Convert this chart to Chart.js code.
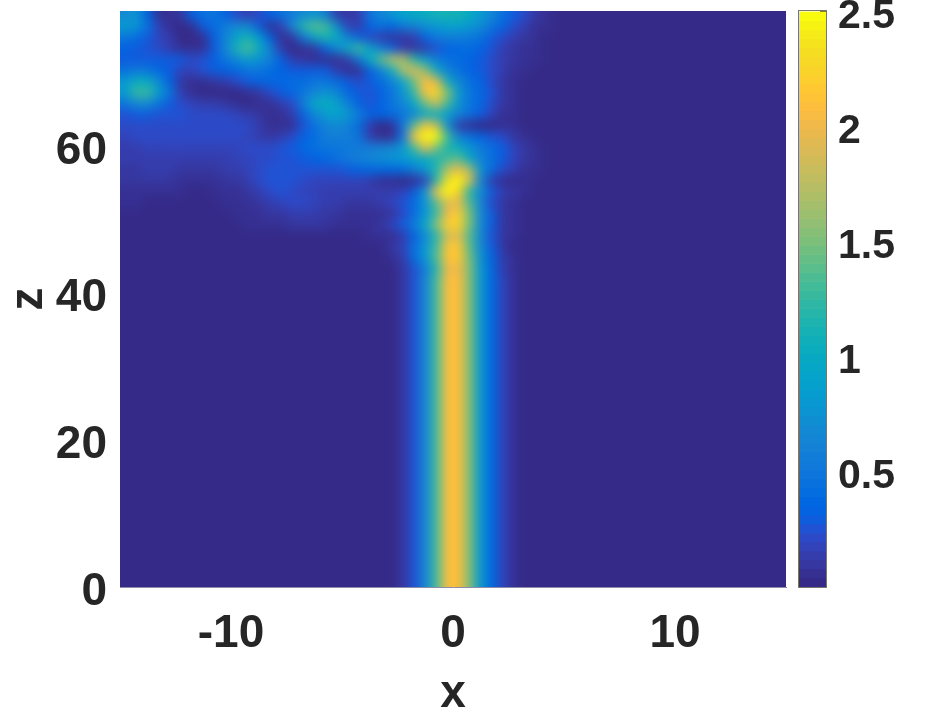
<!DOCTYPE html>
<html>
<head>
<meta charset="utf-8">
<title>Intensity x z</title>
<script src="https://cdn.jsdelivr.net/npm/chart.js@4"></script>
<style>
    html, body { margin: 0; padding: 0; background: #fff; overflow: hidden; }
    canvas { position: absolute; top: 0; display: block; }
    #heat-chart { left: 0; }
    #bar-chart { left: 790px; }
</style>
</head>
<body>
<canvas id="heat-chart" width="927" height="717"></canvas>
<canvas id="bar-chart" width="137" height="717"></canvas>
<script>
// Values
const xCenters = [
    -14.75, -14.25, -13.75, -13.25, -12.75, -12.25, -11.75, -11.25, -10.75, -10.25,
    -9.75, -9.25, -8.75, -8.25, -7.75, -7.25, -6.75, -6.25, -5.75, -5.25,
    -4.75, -4.25, -3.75, -3.25, -2.75, -2.25, -1.75, -1.25, -0.75, -0.25,
    0.25, 0.75, 1.25, 1.75, 2.25, 2.75, 3.25, 3.75, 4.25, 4.75,
    5.25, 5.75, 6.25, 6.75, 7.25, 7.75, 8.25, 8.75, 9.25, 9.75,
    10.25, 10.75, 11.25, 11.75, 12.25, 12.75, 13.25, 13.75, 14.25, 14.75
];
const zEdges = [78.5, 77, 75.5, 74, 72.5, 71, 69.5, 68, 66.5, 65, 63.5, 62, 60.5, 59, 57.5, 56, 54.5, 53, 51.5, 50, 48.5, 47, 45.5, 44, 42.5, 0];
const floorValue = 0.01;

// one row per z band, top to bottom, columns from x = -14.75; columns past the end are floorValue
const heatRows = [
    [.7,.75,.32,.06,.05,.1,.32,.45,.5,.35,.22,.14,.22,.35,.45,.55,.7,.75,.6,.14,.08,.15,.5,.65,.78,.9,1,1.05,1.1,1.12,1.1,1,.85,.65,.45,.3,.2,.1,.05,.03],
    [.85,.75,.45,.18,.05,.03,.05,.28,.42,.55,.68,.68,.28,.05,.12,.65,1.2,1.4,1.3,.75,.18,.12,.32,.45,.38,.52,.62,.72,.82,.88,.88,.8,.7,.5,.35,.22,.12,.07,.04,.02],
    [.5,.42,.28,.18,.12,.02,.02,.06,.32,.6,.9,1.1,.85,.32,.05,.1,.5,.9,1.15,1.05,.62,.32,.22,.15,.1,.1,.15,.38,.52,.58,.58,.52,.45,.3,.2,.13,.08,.05,.03,.02],
    [.32,.3,.26,.22,.14,.06,.04,.07,.3,.65,1.1,1.35,1.05,.6,.14,.03,.04,.08,.35,.7,1,1.3,.9,.6,.35,.15,.1,.12,.24,.35,.38,.4,.35,.25,.15,.1,.07,.05,.03,.02],
    [.3,.3,.3,.3,.3,.28,.22,.24,.32,.48,.7,.85,.75,.6,.32,.15,.08,.06,.07,.07,.12,.5,1,1.4,1.75,1.7,1.2,.85,.58,.45,.4,.35,.3,.22,.12,.08,.06,.04,.03,.02],
    [.45,.52,.48,.38,.28,.18,.18,.24,.3,.32,.38,.48,.5,.42,.34,.3,.28,.3,.3,.14,.06,.07,.32,.6,1.05,1.7,1.95,1.6,1,.6,.45,.35,.3,.22,.12,.06,.04,.03,.02,.02],
    [.8,1.05,1,.7,.32,.08,.06,.05,.08,.15,.22,.28,.32,.36,.38,.4,.42,.48,.5,.42,.28,.22,.28,.4,.6,.9,1.45,2.1,1.95,1.05,.65,.45,.35,.22,.1,.05,.03,.02,.02,.01],
    [.85,1.25,1.25,.85,.5,.14,.05,.03,.02,.02,.03,.05,.1,.22,.28,.38,.48,.65,.75,.65,.38,.28,.25,.33,.5,.75,1.25,2.1,2.3,1.55,.85,.5,.38,.25,.1,.05,.03,.02,.02,.01],
    [.5,.7,.7,.5,.3,.22,.18,.15,.12,.08,.05,.03,.04,.06,.12,.22,.55,.95,1.05,.9,.6,.32,.25,.33,.5,.65,.95,1.45,1.85,1.3,.75,.5,.38,.22,.08,.04,.03,.02,.02,.01],
    [.26,.3,.3,.26,.24,.24,.22,.22,.22,.2,.18,.15,.08,.04,.05,.14,.32,.65,.85,.9,.8,.55,.32,.33,.42,.5,.65,.95,1.05,.85,.6,.45,.3,.18,.07,.04,.03,.02,.02,.01],
    [.22,.22,.23,.23,.23,.23,.23,.22,.22,.2,.2,.2,.14,.06,.04,.07,.25,.45,.62,.68,.62,.42,.12,.03,.07,.5,1.4,2.1,1.8,.75,.15,.04,.03,.03,.04,.05,.03,.02,.02,.01],
    [.18,.2,.2,.2,.2,.2,.2,.2,.2,.2,.2,.18,.12,.1,.14,.22,.32,.42,.55,.58,.55,.48,.15,.04,.06,.45,2.1,2.6,2.5,1.3,.6,.45,.35,.27,.2,.1,.05,.03,.02,.01],
    [.14,.15,.16,.17,.17,.18,.18,.18,.18,.18,.18,.2,.2,.2,.24,.3,.36,.44,.48,.5,.52,.52,.58,.6,.65,.8,1.3,2,1.5,1.15,1.05,.75,.55,.42,.3,.17,.1,.05,.03,.01],
    [.12,.13,.14,.14,.14,.14,.14,.14,.14,.15,.16,.18,.2,.22,.24,.26,.3,.34,.38,.43,.52,.6,.65,.72,.75,.8,.9,1,1.15,1.3,1.4,.95,.6,.45,.3,.18,.1,.05,.03,.01],
    [.1,.11,.12,.12,.12,.11,.1,.1,.1,.12,.14,.16,.2,.24,.26,.25,.24,.24,.25,.26,.28,.32,.36,.38,.38,.42,.55,.8,1.2,1.75,2,1.65,.75,.4,.22,.12,.07,.04,.02,.01],
    [.08,.09,.09,.09,.08,.06,.05,.05,.06,.08,.1,.12,.2,.26,.26,.24,.2,.18,.18,.18,.18,.18,.15,.07,.04,.03,.06,.18,1.2,2.3,2.6,1.9,.65,.15,.04,.03,.04,.03,.02,.01],
    [.05,.06,.06,.05,.04,.04,.03,.03,.04,.05,.07,.09,.15,.22,.26,.22,.18,.16,.14,.14,.14,.14,.14,.14,.14,.18,.28,.8,2,2.55,2.2,1.2,.68,.28,.12,.08,.05,.03,.02,.01],
    [.04,.04,.03,.03,.03,.02,.02,.02,.03,.04,.05,.07,.1,.14,.18,.2,.2,.18,.15,.12,.1,.1,.1,.12,.17,.27,.42,.75,1.4,1.95,1.95,1.35,.6,.22,.09,.05,.03,.02,.02,.01],
    [.02,.02,.02,.02,.02,.02,.02,.02,.02,.03,.04,.05,.07,.09,.11,.12,.13,.13,.11,.09,.07,.06,.05,.05,.1,.22,.4,.75,1.25,2,2.2,1.45,.7,.28,.1,.05,.03,.02,.01,.01],
    [.01,.01,.01,.01,.01,.01,.01,.01,.01,.02,.03,.04,.05,.06,.07,.08,.09,.09,.08,.07,.06,.06,.07,.1,.17,.3,.55,.95,1.55,2.2,2.25,1.45,.7,.28,.1,.04,.02,.02,.01,.01],
    [.01,.01,.01,.01,.01,.01,.01,.01,.01,.01,.02,.02,.03,.03,.03,.03,.03,.03,.03,.03,.03,.03,.04,.05,.06,.12,.32,.7,1.2,1.85,1.95,1.35,.65,.25,.08,.04,.02,.02,.01,.01],
    [.01,.01,.01,.01,.01,.01,.01,.01,.01,.01,.01,.01,.01,.01,.01,.01,.01,.01,.01,.01,.01,.01,.02,.03,.08,.18,.45,.78,1.3,2.12,2.15,1.4,.7,.3,.1,.03,.02,.01,.01,.01],
    [.01,.01,.01,.01,.01,.01,.01,.01,.01,.01,.01,.01,.01,.01,.01,.01,.01,.01,.01,.01,.01,.01,.01,.02,.05,.15,.4,.8,1.35,2.12,2.15,1.45,.78,.34,.13,.04,.02,.01,.01,.01],
    [.01,.01,.01,.01,.01,.01,.01,.01,.01,.01,.01,.01,.01,.01,.01,.01,.01,.01,.01,.01,.01,.01,.01,.01,.03,.08,.26,.58,1.2,2,2,1.5,.8,.36,.15,.05,.02,.01,.01,.01],
    [.01,.01,.01,.01,.01,.01,.01,.01,.01,.01,.01,.01,.01,.01,.01,.01,.01,.01,.01,.01,.01,.01,.01,.01,.02,.09,.27,.65,1.3,2.08,2.08,1.5,.82,.38,.16,.05,.02,.01,.01,.01]
];

const xTicks = [-10, 0, 10];
const zTicks = [0, 20, 40, 60];
const barTicks = [0.5, 1, 1.5, 2, 2.5];

// parula, 64 levels
const parula = [
    [.2081,.1663,.5292],[.2116,.1898,.5777],[.2123,.2138,.6270],[.2081,.2386,.6771],[.1959,.2645,.7279],[.1707,.2919,.7792],[.1253,.3242,.8303],[.0591,.3598,.8683],
    [.0117,.3875,.8820],[.0060,.4086,.8828],[.0165,.4266,.8786],[.0329,.4430,.8720],[.0498,.4586,.8641],[.0629,.4737,.8554],[.0723,.4887,.8467],[.0779,.5040,.8384],
    [.0793,.5200,.8312],[.0749,.5375,.8263],[.0641,.5570,.8240],[.0488,.5772,.8228],[.0343,.5966,.8199],[.0265,.6137,.8135],[.0239,.6287,.8038],[.0231,.6418,.7913],
    [.0228,.6535,.7768],[.0267,.6642,.7607],[.0384,.6743,.7436],[.0590,.6838,.7254],[.0843,.6928,.7062],[.1133,.7015,.6859],[.1453,.7098,.6646],[.1801,.7177,.6424],
    [.2178,.7250,.6193],[.2586,.7317,.5954],[.3022,.7376,.5712],[.3482,.7424,.5473],[.3953,.7459,.5244],[.4420,.7481,.5033],[.4871,.7491,.4840],[.5300,.7491,.4661],
    [.5709,.7485,.4494],[.6099,.7473,.4337],[.6473,.7456,.4188],[.6834,.7435,.4044],[.7184,.7411,.3905],[.7525,.7384,.3768],[.7858,.7356,.3633],[.8185,.7327,.3498],
    [.8507,.7299,.3360],[.8824,.7274,.3217],[.9139,.7258,.3063],[.9450,.7261,.2886],[.9739,.7314,.2666],[.9938,.7455,.2403],[.9990,.7653,.2164],[.9955,.7861,.1967],
    [.9880,.8066,.1794],[.9789,.8271,.1633],[.9697,.8481,.1475],[.9626,.8705,.1309],[.9589,.8949,.1132],[.9598,.9218,.0948],[.9661,.9514,.0755],[.9763,.9831,.0538]
];
const colorMax = 2.5;

const textColor = '#262626';
const fontFamily = '"Liberation Sans", Arial, sans-serif';

function colorFor(v) {
    const i = Math.min(parula.length - 1, Math.floor(v / colorMax * parula.length));
    const c = parula[i];
    return `rgb(${Math.round(c[0] * 255)},${Math.round(c[1] * 255)},${Math.round(c[2] * 255)})`;
}

// Heat map cells as floating bars
const heatCells = [];
heatRows.forEach((row, r) => {
    xCenters.forEach((x, k) => {
        const v = row[k] ?? floorValue;
        heatCells.push({ x: x, y: [zEdges[r + 1], zEdges[r]], v: v });
    });
});

// Smooths the finished cells like a shaded surface, edges stretched out so they do not fade
const smoothCells = {
    id: 'smoothCells',
    afterDatasetsDraw(chart) {
        const { ctx, chartArea: a, canvas } = chart;
        const pad = 20;
        const w = a.right - a.left;
        const h = a.bottom - a.top;
        const t = document.createElement('canvas');
        t.width = w + pad * 2;
        t.height = h + pad * 2;
        const c = t.getContext('2d');
        c.drawImage(canvas, a.left, a.top, w, h, pad, pad, w, h);
        c.drawImage(t, pad, pad, w, 1, pad, 0, w, pad);
        c.drawImage(t, pad, pad + h - 1, w, 1, pad, pad + h, w, pad);
        c.drawImage(t, pad, 0, 1, t.height, 0, 0, pad, t.height);
        c.drawImage(t, pad + w - 1, 0, 1, t.height, pad + w, 0, pad, t.height);

        ctx.save();
        ctx.beginPath();
        ctx.rect(a.left, a.top, w, h);
        ctx.clip();
        ctx.filter = 'blur(5.5px)';
        ctx.drawImage(t, a.left - pad, a.top - pad);
        ctx.restore();
    }
};

const barOutline = {
    id: 'barOutline',
    afterDraw(chart) {
        const { ctx, chartArea: a } = chart;
        ctx.save();
        ctx.strokeStyle = '#77776f';
        ctx.lineWidth = 1;
        ctx.strokeRect(a.left - 0.5, a.top - 0.5, a.right - a.left + 1, a.bottom - a.top + 1);
        ctx.restore();
    }
};

function dropPadding(scale) {
    scale.paddingLeft = 0;
    scale.paddingRight = 0;
    scale.paddingTop = 0;
    scale.paddingBottom = 0;
}

new Chart(document.getElementById('heat-chart'), {
    type: 'bar',
    data: {
        datasets: [{
            data: heatCells,
            backgroundColor: ctx => colorFor(ctx.raw.v),
            borderWidth: 0,
            categoryPercentage: 1,
            barPercentage: 1
        }]
    },
    options: {
        responsive: false,
        animation: false,
        events: [],
        layout: { padding: { top: 11, right: 141, left: 0, bottom: 0 } },
        plugins: { legend: { display: false }, tooltip: { enabled: false } },
        scales: {
            x: {
                type: 'linear',
                offset: false,
                min: -15,
                max: 15,
                grid: { display: false, drawTicks: false },
                border: { display: true, color: '#8c8ca8', width: 1 },
                afterBuildTicks: s => { s.ticks = xTicks.map(v => ({ value: v })); },
                afterFit: s => { s.height = 130; dropPadding(s); },
                ticks: {
                    padding: 20,
                    color: textColor,
                    maxRotation: 0,
                    autoSkip: false,
                    font: { family: fontFamily, size: 46, weight: 'bold' },
                    callback: v => String(v)
                },
                title: {
                    display: true,
                    text: 'x',
                    color: textColor,
                    padding: { top: 0, bottom: -5 },
                    font: { family: fontFamily, size: 46, weight: 'bold' }
                }
            },
            y: {
                min: 0,
                max: 78.37,
                grid: { display: false, drawTicks: false },
                border: { display: true, color: '#8c8ca8', width: 1 },
                afterBuildTicks: s => { s.ticks = zTicks.map(v => ({ value: v })); },
                afterFit: s => { s.width = 120; dropPadding(s); },
                ticks: {
                    padding: 13,
                    labelOffset: 5,
                    color: textColor,
                    autoSkip: false,
                    font: { family: fontFamily, size: 46, weight: 'bold' },
                    callback: v => String(v)
                },
                title: {
                    display: true,
                    text: 'z',
                    color: textColor,
                    padding: { top: 2, bottom: 0 },
                    font: { family: fontFamily, size: 46, weight: 'bold' }
                }
            }
        }
    },
    plugins: [smoothCells]
});

// Colour bar, one floating bar per colormap level
const barLevels = parula.map((c, i) => ({
    x: 0,
    y: [i * colorMax / parula.length, (i + 1) * colorMax / parula.length],
    v: (i + 0.5) * colorMax / parula.length
}));

new Chart(document.getElementById('bar-chart'), {
    type: 'bar',
    data: {
        datasets: [{
            data: barLevels,
            backgroundColor: ctx => colorFor(ctx.raw.v),
            borderWidth: 0,
            categoryPercentage: 1,
            barPercentage: 1
        }]
    },
    options: {
        responsive: false,
        animation: false,
        events: [],
        layout: { padding: { top: 11, right: 0, left: 9, bottom: 130 } },
        plugins: { legend: { display: false }, tooltip: { enabled: false } },
        scales: {
            x: { type: 'linear', offset: false, min: -0.5, max: 0.5, display: false },
            y: {
                position: 'right',
                min: 0,
                max: 2.504,
                grid: { display: true, drawOnChartArea: false, tickLength: -6, tickColor: '#333333' },
                border: { display: false },
                afterBuildTicks: s => { s.ticks = barTicks.map(v => ({ value: v })); },
                afterFit: s => { s.width = 101; dropPadding(s); },
                ticks: {
                    padding: 18,
                    labelOffset: 5,
                    color: textColor,
                    autoSkip: false,
                    font: { family: fontFamily, size: 41, weight: 'bold' },
                    callback: v => String(v)
                }
            }
        }
    },
    plugins: [barOutline]
});
</script>
</body>
</html>
